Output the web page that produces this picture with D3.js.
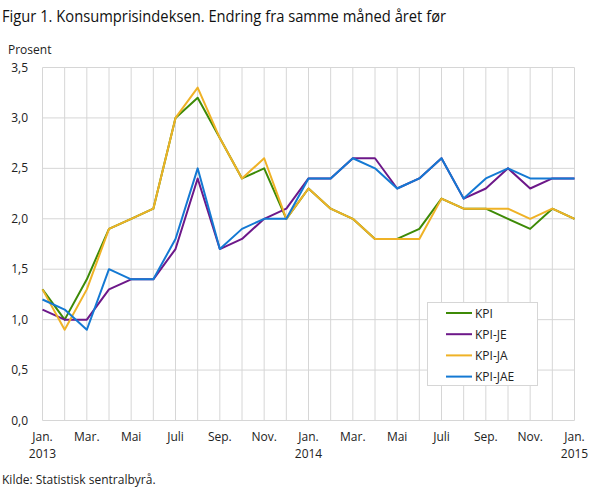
<!DOCTYPE html>
<html><head><meta charset="utf-8">
<script src="https://cdn.jsdelivr.net/npm/d3@7"></script>
<style>
body{margin:0;background:#fff;}
svg text{font-family:"Open Sans",sans-serif;fill:#222;}
</style></head>
<body><svg id="c" width="609" height="489"></svg>
<script>
const months = ["Jan.","Feb.","Mar.","Apr.","Mai","Jun.","Juli","Aug.","Sep.","Okt.","Nov.","Des.",
                "Jan.","Feb.","Mar.","Apr.","Mai","Jun.","Juli","Aug.","Sep.","Okt.","Nov.","Des.","Jan."];
const yearLabels = {0:"2013",12:"2014",24:"2015"};
const seriesNames = ["KPI","KPI-JE","KPI-JA","KPI-JAE"];
const seriesColors = ["#3d8a06","#6d1889","#efb226","#1479d3"];
const kpi   = [1.3,1.0,1.4,1.9,2.0,2.1,3.0,3.2,2.8,2.4,2.5,2.0,2.3,2.1,2.0,1.8,1.8,1.9,2.2,2.1,2.1,2.0,1.9,2.1,2.0];
const kpiJE = [1.1,1.0,1.0,1.3,1.4,1.4,1.7,2.4,1.7,1.8,2.0,2.1,2.4,2.4,2.6,2.6,2.3,2.4,2.6,2.2,2.3,2.5,2.3,2.4,2.4];
const kpiJA = [1.3,0.9,1.3,1.9,2.0,2.1,3.0,3.3,2.8,2.4,2.6,2.0,2.3,2.1,2.0,1.8,1.8,1.8,2.2,2.1,2.1,2.1,2.0,2.1,2.0];
const kpiJAE= [1.2,1.1,0.9,1.5,1.4,1.4,1.8,2.5,1.7,1.9,2.0,2.0,2.4,2.4,2.6,2.5,2.3,2.4,2.6,2.2,2.4,2.5,2.4,2.4,2.4];
const yTicks = [0,0.5,1.0,1.5,2.0,2.5,3.0,3.5];
const series = [kpi,kpiJE,kpiJA,kpiJAE];

const svg = d3.select("#c");
const x = d3.scaleLinear().domain([0,24]).range([42.5,574.5]);
const y = d3.scaleLinear().domain([0,3.5]).range([420.5,67.5]);
const fmt = v => d3.format(".1f")(v).replace(".",",");

svg.append("text").attr("x",2).attr("y",22).style("font-size","16px").style("fill","#111")
  .attr("textLength",444).attr("lengthAdjust","spacingAndGlyphs")
  .text("Figur 1. Konsumprisindeksen. Endring fra samme måned året før");
svg.append("text").attr("x",8).attr("y",54).style("font-size","12px").text("Prosent");

// grid
const g = svg.append("g");
g.selectAll(".v").data(d3.range(25)).join("line")
  .attr("x1",d=>x(d)).attr("x2",d=>x(d)).attr("y1",y(3.5)).attr("y2",y(0))
  .attr("stroke","#d6d6d6").attr("stroke-width",1);
g.selectAll(".h").data(yTicks).join("line")
  .attr("x1",x(0)).attr("x2",x(24)).attr("y1",d=>y(d)).attr("y2",d=>y(d))
  .attr("stroke","#d6d6d6").attr("stroke-width",1);

// y labels
svg.selectAll(".yl").data(yTicks).join("text")
  .attr("x",28).attr("y",d=>y(d)+4).attr("text-anchor","end").style("font-size","12px")
  .text(fmt);

// x labels
const xl = d3.range(0,25,2);
svg.selectAll(".xl").data(xl).join("text")
  .attr("x",d=>x(d)).attr("y",441).attr("text-anchor","middle").style("font-size","12px")
  .text(d=>months[d]);
svg.selectAll(".yr").data(Object.keys(yearLabels).map(Number)).join("text")
  .attr("x",d=>x(d)).attr("y",458).attr("text-anchor","middle").style("font-size","12px")
  .text(d=>yearLabels[d]);

svg.append("text").attr("x",2).attr("y",484).style("font-size","12px").text("Kilde: Statistisk sentralbyrå.");

// lines
const line = d3.line().x((d,i)=>x(i)).y(d=>y(d));
series.forEach((s,i)=>{
  svg.append("path").datum(s).attr("d",line).attr("fill","none")
    .attr("stroke",seriesColors[i]).attr("stroke-width",2).attr("stroke-linejoin","round");
});

// legend
const lg = svg.append("g");
lg.append("rect").attr("x",427.5).attr("y",302.5).attr("width",110).attr("height",83)
  .attr("fill","#fff").attr("stroke","#d6d6d6");
seriesNames.forEach((n,i)=>{
  const yy = 313 + i*21.2;
  lg.append("line").attr("x1",446).attr("x2",472).attr("y1",yy).attr("y2",yy)
    .attr("stroke",seriesColors[i]).attr("stroke-width",2);
  lg.append("text").attr("x",475).attr("y",yy+4.5).style("font-size","12px").text(n);
});
</script></body></html>
